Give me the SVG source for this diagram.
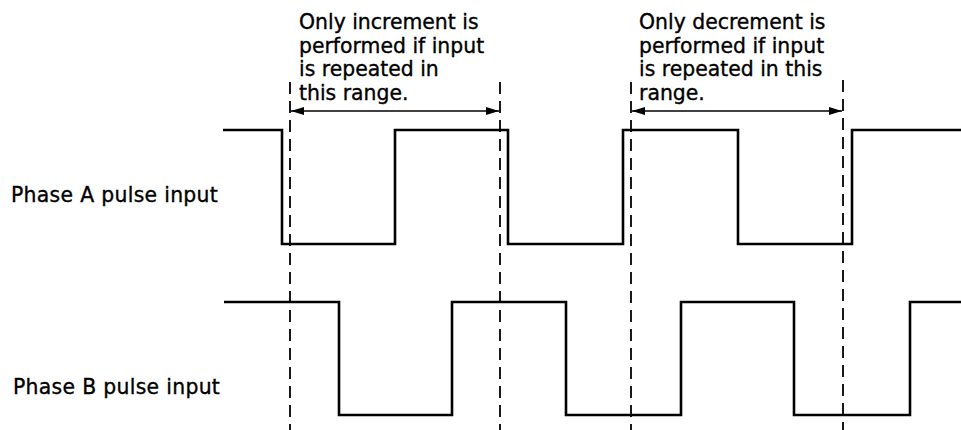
<svg xmlns="http://www.w3.org/2000/svg" width="961" height="430" viewBox="0 0 961 430">
<style>
.t{font-family:"DejaVu Sans",sans-serif;font-size:20.4px;fill:#000;stroke:#000;stroke-width:0.35}
.l{letter-spacing:0.3px}
.w{fill:none;stroke:#000;stroke-width:2.6;stroke-linejoin:miter}
.d{stroke:#000;stroke-width:1.8;stroke-dasharray:12 7}
.a{stroke:#000;stroke-width:1.6}
</style>
<defs>
<marker id="ah" viewBox="0 0 13 8" refX="13" refY="4" markerWidth="13" markerHeight="8" markerUnits="userSpaceOnUse" orient="auto-start-reverse">
<path d="M0 0L13 4L0 8Z" fill="#000"/>
</marker>
</defs>
<rect width="961" height="430" fill="#fff"/>
<g id="label-a"><text class="t l" x="11" y="202">Phase A pulse input</text></g>
<g id="label-b"><text class="t l" x="13" y="394">Phase B pulse input</text></g>
<g id="note-increment">
<text class="t" x="299" y="29">Only increment is</text>
<text class="t" x="299" y="53">performed if input</text>
<text class="t" x="299" y="76">is repeated in</text>
<text class="t" x="299" y="100">this range.</text>
</g>
<g id="note-decrement">
<text class="t" x="639" y="29">Only decrement is</text>
<text class="t" x="639" y="53">performed if input</text>
<text class="t" x="639" y="76">is repeated in this</text>
<text class="t" x="639" y="100">range.</text>
</g>
<g id="wave-a"><path class="w" d="M223 130H282V244H395V130H508V244H623V130H738V244H852V130H961"/></g>
<g id="wave-b"><path class="w" d="M224 302H339V415H452V302H566V415H681V302H794V415H910V302H961"/></g>
<g id="connectors">
<line class="d" x1="290" y1="82" x2="290" y2="430"/>
<line class="d" x1="500" y1="82" x2="500" y2="430"/>
<line class="d" x1="631" y1="82" x2="631" y2="430"/>
<line class="d" x1="843" y1="80" x2="843" y2="430"/>
<line class="a" x1="291" y1="111" x2="499" y2="111" marker-start="url(#ah)" marker-end="url(#ah)"/>
<line class="a" x1="632" y1="111" x2="842" y2="111" marker-start="url(#ah)" marker-end="url(#ah)"/>
</g>
</svg>
